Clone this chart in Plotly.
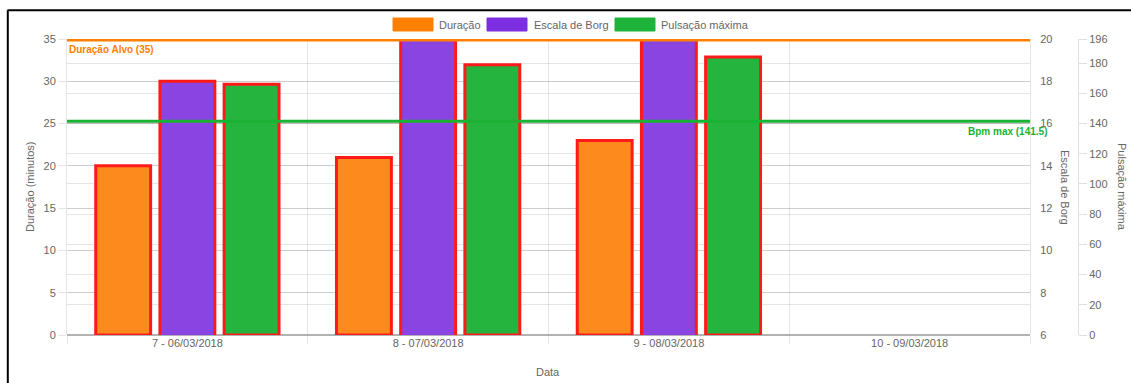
import plotly.graph_objects as go

# ---- data ----
categories = ["7 - 06/03/2018", "8 - 07/03/2018", "9 - 08/03/2018", "10 - 09/03/2018"]
duracao = [20, 21, 23, None]
borg = [18, 20, 20, None]
pulsacao = [166, 179, 184, None]
series_names = ["Duração", "Escala de Borg", "Pulsação máxima"]
duracao_alvo = 35
bpm_max = 141.5
pulse_ticks = [0, 20, 40, 60, 80, 100, 120, 140, 160, 180, 196]

# ---- geometry helpers (figure pixels -> paper) ----
W, H = 1131, 383
L, R_AX, R_PULSE = 67, 1030, 1078
TOP, BOT = 39, 335
PW = R_PULSE - L
PH = BOT - TOP
def px(x):
    return (x - L) / PW
def py(y):
    return (BOT - y) / PH

FONT = "Liberation Sans, Arial, Helvetica, sans-serif"
GRID = "rgba(0,0,0,0.1)"
TXT = "#666666"

fill_colors = ["#fd8a1c", "#8944e1", "#25b53e"]
legend_colors = ["#ff8000", "#7b2fe0", "#1eb33a"]
border = "#ff1a1a"

bw = 0.228
slot = 0.8 / 3
offsets = [-slot - bw / 2, -bw / 2, slot - bw / 2]

fig = go.Figure()
for vals, name, col, off, yax in zip([duracao, borg, pulsacao], series_names, fill_colors, offsets, ["y", "y2", "y3"]):
    fig.add_trace(go.Bar(
        x=categories, y=vals, name=name, yaxis=yax,
        width=bw, offset=off,
        marker=dict(color=col, line=dict(color=border, width=3)),
        showlegend=False,
    ))

shapes = []
annotations = []

# target lines
shapes.append(dict(type="line", xref="x domain", yref="y", x0=0, x1=1, y0=duracao_alvo, y1=duracao_alvo,
                   line=dict(color="#ff8000", width=5), layer="above"))
shapes.append(dict(type="line", xref="x domain", yref="y3", x0=0, x1=1, y0=bpm_max, y1=bpm_max,
                   line=dict(color="#19b233", width=3), layer="above"))
annotations.append(dict(text="<b>Duração Alvo (%g)</b>" % duracao_alvo, xref="paper", yref="y", x=0, y=duracao_alvo,
                        xanchor="left", yanchor="top", yshift=-3, showarrow=False,
                        font=dict(family=FONT, size=10, color="#ff8000")))
annotations.append(dict(text="<b>Bpm max (%g)</b>" % bpm_max, xref="paper", yref="y3", x=px(1049), y=bpm_max,
                        xanchor="right", yanchor="top", yshift=-3, showarrow=False,
                        font=dict(family=FONT, size=10, color="#19b233")))

# custom legend
leg_boxes = [(393, 433, 437), (487, 527, 532), (615, 655, 659)]
for (x0, x1, tx), name, col in zip(leg_boxes, series_names, legend_colors):
    shapes.append(dict(type="rect", xref="paper", yref="paper", x0=px(x0), x1=px(x1), y0=py(31), y1=py(18),
                       fillcolor=col, line=dict(color=col, width=1)))
    annotations.append(dict(text=name, xref="paper", yref="paper", x=px(tx), y=py(24.5),
                            xanchor="left", yanchor="middle", showarrow=False,
                            font=dict(family=FONT, size=11, color=TXT)))

# axis titles
annotations.append(dict(text="Duração (minutos)", xref="paper", yref="paper", x=px(30), y=0.5, textangle=-90,
                        showarrow=False, xanchor="center", yanchor="middle", font=dict(family=FONT, size=11, color=TXT)))
annotations.append(dict(text="Escala de Borg", xref="paper", yref="paper", x=px(1065), y=0.5, textangle=90,
                        showarrow=False, xanchor="center", yanchor="middle", font=dict(family=FONT, size=11, color=TXT)))
annotations.append(dict(text="Pulsação máxima", xref="paper", yref="paper", x=px(1122), y=0.5, textangle=90,
                        showarrow=False, xanchor="center", yanchor="middle", font=dict(family=FONT, size=11, color=TXT)))
annotations.append(dict(text="Data", xref="paper", yref="paper", x=px(548), y=py(372),
                        showarrow=False, xanchor="center", yanchor="middle", font=dict(family=FONT, size=11, color=TXT)))

# screenshot frame
shapes.append(dict(type="line", xref="paper", yref="paper", x0=px(7.5), x1=px(1131), y0=py(10.3), y1=py(10.3),
                   line=dict(color="black", width=2)))
shapes.append(dict(type="line", xref="paper", yref="paper", x0=px(7.8), x1=px(7.8), y0=py(10.3), y1=py(383),
                   line=dict(color="black", width=2)))

fig.update_layout(
    width=W, height=H,
    margin=dict(l=L, r=W - R_PULSE, t=TOP, b=H - BOT, pad=0),
    paper_bgcolor="white", plot_bgcolor="white",
    barmode="overlay",
    showlegend=False,
    font=dict(family=FONT, size=11, color=TXT),
    xaxis=dict(domain=[0, px(R_AX)], type="category", categoryarray=categories, categoryorder="array",
               range=[-0.5, 3.5], tickson="boundaries", showgrid=True, gridcolor=GRID, gridwidth=1,
               ticks="outside", ticklen=8, tickcolor=GRID, showline=False, zeroline=False,
               tickfont=dict(family=FONT, size=11, color=TXT)),
    yaxis=dict(range=[0, 35], dtick=5, showgrid=True, gridcolor=GRID, ticks="outside", ticklen=8,
               tickcolor=GRID, showline=True, linecolor=GRID, zeroline=True, zerolinecolor="rgba(0,0,0,0.3)",
               zerolinewidth=2, tickfont=dict(family=FONT, size=11, color=TXT)),
    yaxis2=dict(range=[6, 20], dtick=2, overlaying="y", side="right", anchor="x", showgrid=True,
                gridcolor=GRID, ticks="outside", ticklen=7, tickcolor="rgba(0,0,0,0)", showline=True,
                linecolor=GRID, zeroline=False, tickfont=dict(family=FONT, size=11, color=TXT)),
    yaxis3=dict(range=[0, 196], tickmode="array", tickvals=pulse_ticks, overlaying="y", side="right",
                anchor="free", position=1, showgrid=True, gridcolor=GRID, ticks="outside", ticklen=8,
                tickcolor="rgba(0,0,0,0.12)", showline=True, linecolor="rgba(0,0,0,0.12)", zeroline=False,
                tickfont=dict(family=FONT, size=11, color=TXT)),
    shapes=shapes,
    annotations=annotations,
)

fig.write_html("out.html")
